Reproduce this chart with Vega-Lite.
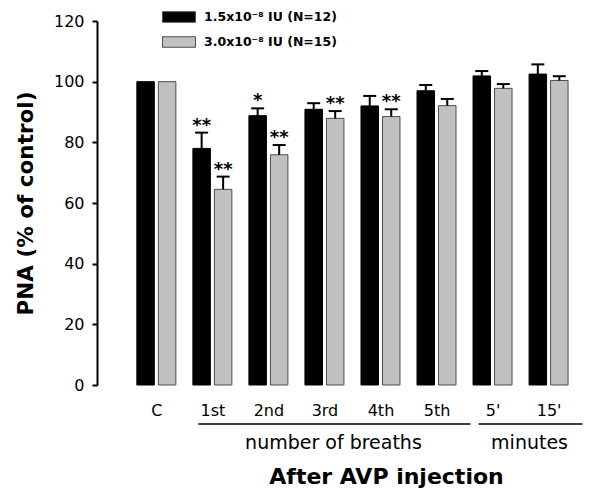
{
  "$schema": "https://vega.github.io/schema/vega-lite/v6.json",
  "width": 507,
  "height": 364,
  "autosize": "none",
  "padding": {"left": 97, "top": 21, "right": 2, "bottom": 108},
  "background": "white",
  "config": {"view": {"stroke": null}, "font": "DejaVu Sans"},
  "datasets": {
    "bars": [
      {"pos": 1, "label": "C", "dose": "1.5x10⁻⁸ IU (N=12)", "value": 100, "err": null, "sig": ""},
      {"pos": 2, "label": "1st", "dose": "1.5x10⁻⁸ IU (N=12)", "value": 78.0, "err": 83.2, "sig": "**"},
      {"pos": 3, "label": "2nd", "dose": "1.5x10⁻⁸ IU (N=12)", "value": 88.8, "err": 91.2, "sig": "*"},
      {"pos": 4, "label": "3rd", "dose": "1.5x10⁻⁸ IU (N=12)", "value": 90.9, "err": 92.9, "sig": ""},
      {"pos": 5, "label": "4th", "dose": "1.5x10⁻⁸ IU (N=12)", "value": 92.0, "err": 95.3, "sig": ""},
      {"pos": 6, "label": "5th", "dose": "1.5x10⁻⁸ IU (N=12)", "value": 97.0, "err": 98.9, "sig": ""},
      {"pos": 7, "label": "5'", "dose": "1.5x10⁻⁸ IU (N=12)", "value": 101.9, "err": 103.5, "sig": ""},
      {"pos": 8, "label": "15'", "dose": "1.5x10⁻⁸ IU (N=12)", "value": 102.5, "err": 105.7, "sig": ""},
      {"pos": 1, "label": "C", "dose": "3.0x10⁻⁸ IU (N=15)", "value": 100, "err": null, "sig": ""},
      {"pos": 2, "label": "1st", "dose": "3.0x10⁻⁸ IU (N=15)", "value": 64.5, "err": 68.7, "sig": "**"},
      {"pos": 3, "label": "2nd", "dose": "3.0x10⁻⁸ IU (N=15)", "value": 75.9, "err": 79.1, "sig": "**"},
      {"pos": 4, "label": "3rd", "dose": "3.0x10⁻⁸ IU (N=15)", "value": 87.9, "err": 90.3, "sig": "**"},
      {"pos": 5, "label": "4th", "dose": "3.0x10⁻⁸ IU (N=15)", "value": 88.5, "err": 90.9, "sig": "**"},
      {"pos": 6, "label": "5th", "dose": "3.0x10⁻⁸ IU (N=15)", "value": 92.1, "err": 94.3, "sig": ""},
      {"pos": 7, "label": "5'", "dose": "3.0x10⁻⁸ IU (N=15)", "value": 97.8, "err": 99.2, "sig": ""},
      {"pos": 8, "label": "15'", "dose": "3.0x10⁻⁸ IU (N=15)", "value": 100.4, "err": 101.8, "sig": ""}
    ],
    "groups": [
      {"name": "number of breaths", "start": 2, "end": 6},
      {"name": "minutes", "start": 7, "end": 8}
    ]
  },
  "layer": [
    {
      "data": {"name": "bars"},
      "transform": [{"filter": "datum.dose === '1.5x10⁻⁸ IU (N=12)'"}],
      "layer": [
        {
          "mark": {"type": "bar", "width": 17.5, "xOffset": -10.75, "stroke": "black", "strokeWidth": 1},
          "encoding": {
            "x": {"field": "pos", "type": "quantitative", "scale": {"domain": [0.03, 8.9], "nice": false, "zero": false},
              "axis": {"values": [1, 2, 3, 4, 5, 6, 7, 8], "labelExpr": "['','C','1st','2nd','3rd','4th','5th',\"5'\",\"15'\"][datum.value]", "domain": false, "ticks": false, "tickSize": 0, "grid": false, "labelFont": "DejaVu Sans", "labelFontSize": 16, "labelColor": "black", "labelBaseline": "alphabetic", "labelPadding": 30, "labelFlush": false, "labelOverlap": false,
                "title": "After AVP injection", "titleFont": "DejaVu Sans", "titleFontSize": 22, "titleFontWeight": "bold", "titleColor": "black", "titleBaseline": "alphabetic", "titleX": 289, "titleY": 98, "titleAnchor": "middle", "titleAlign": "center"}},
            "y": {"field": "value", "type": "quantitative", "scale": {"domain": [0, 120], "nice": false},
              "axis": {"values": [0, 20, 40, 60, 80, 100, 120], "grid": false, "domainColor": "black", "domainWidth": 2, "tickColor": "black", "tickWidth": 2, "tickSize": 5, "labelFont": "DejaVu Sans", "labelFontSize": 16, "labelColor": "black", "labelPadding": 8,
                "title": "PNA (% of control)", "titleFont": "DejaVu Sans", "titleFontSize": 21.5, "titleFontWeight": "bold", "titleColor": "black", "titlePadding": 16}},
            "color": {"field": "dose", "type": "nominal", "scale": {"domain": ["1.5x10⁻⁸ IU (N=12)", "3.0x10⁻⁸ IU (N=15)"], "range": ["black", "#c0c0c0"]},
              "legend": {"title": null, "orient": "none", "legendX": 65, "legendY": -21, "direction": "vertical", "symbolType": "M-1,-0.32H1V0.32H-1Z", "symbolSize": 1089, "symbolStrokeColor": "#333333", "symbolStrokeWidth": 1, "symbolOpacity": 1, "labelFont": "DejaVu Sans", "labelFontWeight": "bold", "labelFontSize": 12.5, "labelColor": "black", "labelOffset": 8, "rowPadding": -11.5}}
          }
        },
        {
          "transform": [{"filter": "datum.err != null"}],
          "mark": {"type": "rule", "xOffset": -10.75, "color": "black", "strokeWidth": 2},
          "encoding": {"x": {"field": "pos", "type": "quantitative"}, "y": {"field": "value", "type": "quantitative"}, "y2": {"field": "err"}}
        },
        {
          "transform": [{"filter": "datum.err != null"}],
          "mark": {"type": "tick", "orient": "horizontal", "xOffset": -10.75, "color": "black", "size": 13, "thickness": 2, "opacity": 1},
          "encoding": {"x": {"field": "pos", "type": "quantitative"}, "y": {"field": "err", "type": "quantitative"}}
        },
        {
          "transform": [{"filter": "datum.sig != ''"}],
          "mark": {"type": "text", "xOffset": -10.75, "dy": -2, "baseline": "alphabetic", "align": "center", "font": "DejaVu Sans", "fontWeight": "bold", "fontSize": 18, "color": "black"},
          "encoding": {"x": {"field": "pos", "type": "quantitative"}, "y": {"field": "err", "type": "quantitative"}, "text": {"field": "sig"}}
        }
      ]
    },
    {
      "data": {"name": "bars"},
      "transform": [{"filter": "datum.dose === '3.0x10⁻⁸ IU (N=15)'"}],
      "layer": [
        {
          "mark": {"type": "bar", "width": 17.5, "xOffset": 10.75, "stroke": "#4d4d4d", "strokeWidth": 1},
          "encoding": {
            "x": {"field": "pos", "type": "quantitative"},
            "y": {"field": "value", "type": "quantitative"},
            "color": {"field": "dose", "type": "nominal"}
          }
        },
        {
          "transform": [{"filter": "datum.err != null"}],
          "mark": {"type": "rule", "xOffset": 10.75, "color": "black", "strokeWidth": 2},
          "encoding": {"x": {"field": "pos", "type": "quantitative"}, "y": {"field": "value", "type": "quantitative"}, "y2": {"field": "err"}}
        },
        {
          "transform": [{"filter": "datum.err != null"}],
          "mark": {"type": "tick", "orient": "horizontal", "xOffset": 10.75, "color": "black", "size": 13, "thickness": 2, "opacity": 1},
          "encoding": {"x": {"field": "pos", "type": "quantitative"}, "y": {"field": "err", "type": "quantitative"}}
        },
        {
          "transform": [{"filter": "datum.sig != ''"}],
          "mark": {"type": "text", "xOffset": 10.75, "dy": -2, "baseline": "alphabetic", "align": "center", "font": "DejaVu Sans", "fontWeight": "bold", "fontSize": 18, "color": "black"},
          "encoding": {"x": {"field": "pos", "type": "quantitative"}, "y": {"field": "err", "type": "quantitative"}, "text": {"field": "sig"}}
        }
      ]
    },
    {
      "mark": {"type": "rule", "color": "black", "strokeWidth": 2, "x2Offset": -2},
      "encoding": {"x": {"datum": 0.03, "type": "quantitative"}, "x2": {"datum": 6.5}, "y": {"datum": 0, "type": "quantitative"}}
    },
    {
      "mark": {"type": "rule", "color": "black", "strokeWidth": 2, "xOffset": 2},
      "encoding": {"x": {"datum": 6.5, "type": "quantitative"}, "x2": {"datum": 8.9}, "y": {"datum": 0, "type": "quantitative"}}
    },
    {
      "data": {"name": "groups"},
      "mark": {"type": "rule", "color": "black", "strokeWidth": 1.5, "xOffset": -14, "x2Offset": 34, "yOffset": 39},
      "encoding": {"x": {"field": "start", "type": "quantitative"}, "x2": {"field": "end"}, "y": {"value": "height"}}
    },
    {
      "data": {"name": "groups"},
      "transform": [{"calculate": "(datum.start + datum.end) / 2", "as": "mid"}],
      "mark": {"type": "text", "font": "DejaVu Sans", "fontSize": 19, "color": "black", "align": "center", "baseline": "alphabetic", "dx": 9, "yOffset": 64},
      "encoding": {"x": {"field": "mid", "type": "quantitative"}, "y": {"value": "height"}, "text": {"field": "name"}}
    }
  ]
}
